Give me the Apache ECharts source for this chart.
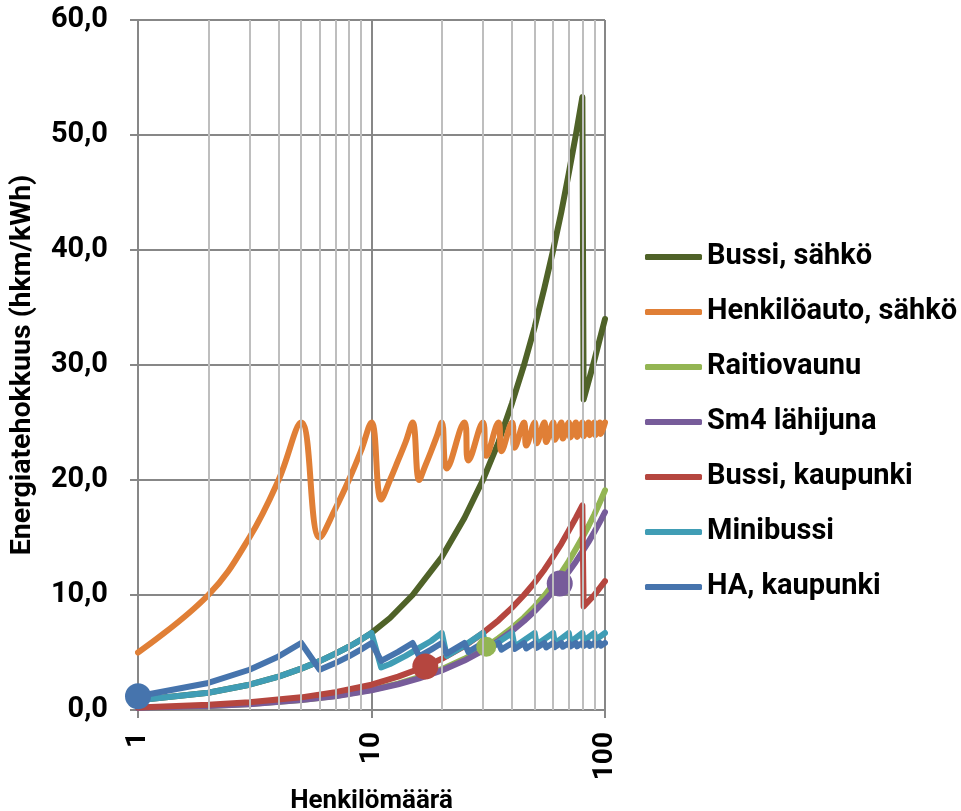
<!DOCTYPE html>
<html>
<head>
<meta charset="utf-8">
<script src="https://cdn.jsdelivr.net/npm/echarts@6/dist/echarts.min.js"></script>
<style>
  html, body { margin: 0; padding: 0; background: #ffffff; }
  #chart { width: 961px; height: 811px; }
</style>
</head>
<body>
<div id="chart"></div>
<script>
// Energy efficiency (passenger-km per kWh) by number of passengers, per vehicle type.
// Each list holds [passengers, hkm/kWh] points.

const bussiSahko = [
  [1, 0.85], [2, 1.5], [3, 2.2], [4, 2.9], [5, 3.6], [6, 4.25], [7, 4.9], [8, 5.5], [9, 6.1], [10, 6.7],
  [12, 8.0], [15, 10.0], [20, 13.3], [25, 16.7], [30, 20.0], [35, 23.3], [40, 26.7], [45, 30.0],
  [50, 33.3], [55, 36.7], [60, 40.0], [65, 43.3], [70, 46.7], [75, 50.0], [80, 53.3],
  [81, 27.0], [90, 30.4], [100, 34.0]
];

const henkiloautoSahko = [
  [1, 5.0], [2, 10.0], [3, 15.0], [4, 20.0], [5, 25.0], [6, 15.0], [7, 17.5], [8, 20.0], [9, 22.5], [10, 25.0],
  [11, 18.3], [12, 20.0], [13, 21.7], [14, 23.3], [15, 25.0], [16, 20.0], [17, 21.25], [18, 22.5], [19, 23.75], [20, 25.0],
  [21, 21.0], [25, 25.0], [26, 21.7], [30, 25.0], [31, 22.1], [35, 25.0], [36, 22.5], [40, 25.0],
  [41, 22.8], [45, 25.0], [46, 23.0], [50, 25.0], [51, 23.2], [55, 25.0], [56, 23.3], [60, 25.0],
  [61, 23.5], [65, 25.0], [66, 23.6], [70, 25.0], [71, 23.7], [75, 25.0], [76, 23.75], [80, 25.0],
  [81, 23.8], [85, 25.0], [86, 23.9], [90, 25.0], [91, 23.9], [95, 25.0], [96, 24.0], [100, 25.0]
];

const raitiovaunu = [
  [1, 0.17], [2, 0.34], [3, 0.52], [5, 0.87], [7, 1.22], [10, 1.75], [13, 2.3], [16, 2.85], [20, 3.55],
  [25, 4.45], [31, 5.5], [35, 6.25], [40, 7.15], [45, 8.05], [50, 9.0], [55, 9.95], [60, 10.95],
  [65, 11.95], [70, 12.95], [75, 14.0], [80, 15.0], [85, 16.0], [90, 17.0], [95, 18.05], [100, 19.1]
];

const sm4Lahijuna = [
  [1, 0.17], [2, 0.34], [3, 0.51], [5, 0.86], [7, 1.2], [10, 1.72], [13, 2.24], [16, 2.75], [20, 3.44],
  [25, 4.3], [30, 5.16], [35, 6.02], [40, 6.88], [45, 7.74], [50, 8.6], [55, 9.46], [60, 10.32],
  [64, 11.0], [70, 12.04], [75, 12.9], [80, 13.76], [85, 14.62], [90, 15.48], [95, 16.34], [100, 17.2]
];

const bussiKaupunki = [
  [1, 0.22], [2, 0.45], [3, 0.67], [5, 1.1], [7, 1.55], [10, 2.2], [13, 2.9], [17, 3.78], [20, 4.45],
  [25, 5.55], [30, 6.7], [35, 7.8], [40, 8.9], [45, 10.0], [50, 11.1], [55, 12.2], [60, 13.35],
  [65, 14.45], [70, 15.6], [75, 16.7], [80, 17.8], [81, 9.0], [90, 10.0], [100, 11.2]
];

const minibussi = [
  [1, 0.85], [2, 1.5], [3, 2.2], [4, 2.9], [5, 3.6], [6, 4.25], [7, 4.9], [8, 5.5], [9, 6.1], [10, 6.7],
  [11, 3.7], [12, 4.0], [14, 4.7], [16, 5.4], [18, 6.0], [20, 6.7], [21, 4.7], [25, 5.6], [30, 6.7],
  [31, 5.2], [40, 6.7], [41, 5.5], [50, 6.7], [51, 5.7], [60, 6.7], [61, 5.8], [70, 6.7], [71, 5.9],
  [80, 6.7], [81, 6.0], [90, 6.7], [91, 6.1], [100, 6.7]
];

const haKaupunki = [
  [1, 1.2], [2, 2.35], [3, 3.5], [4, 4.66], [5, 5.83], [6, 3.5], [7, 4.08], [8, 4.66], [9, 5.25], [10, 5.83],
  [11, 4.27], [13, 5.05], [15, 5.83], [16, 4.66], [18, 5.25], [20, 5.83], [21, 4.9], [25, 5.83],
  [26, 5.05], [30, 5.83], [31, 5.16], [35, 5.83], [36, 5.25], [40, 5.83], [41, 5.31], [45, 5.83],
  [46, 5.36], [50, 5.83], [51, 5.41], [55, 5.83], [56, 5.44], [60, 5.83], [61, 5.47], [65, 5.83],
  [66, 5.5], [70, 5.83], [71, 5.52], [75, 5.83], [76, 5.54], [80, 5.83], [81, 5.56], [85, 5.83],
  [86, 5.57], [90, 5.83], [91, 5.59], [95, 5.83], [96, 5.6], [100, 5.83]
];

// Typical occupancy highlighted with a dot (passengers).
const haMarkerAt = 1;
const bussiKaupunkiMarkerAt = 17;
const raitiovaunuMarkerAt = 31;
const sm4MarkerAt = 64;

// Minor vertical grid lines on the logarithmic passenger axis.
const minorXTicks = [2, 3, 4, 5, 6, 7, 8, 9, 20, 30, 40, 50, 60, 70, 80, 90];

const FONT = "Roboto, 'Liberation Sans', sans-serif";
const GRID_DARK = '#878787';
const GRID_LIGHT = '#BEBEBE';
const LINE_WIDTH = 6;

function lineSeries(name, color, points, markerAt, markerSize, smooth) {
  return {
    name: name,
    type: 'line',
    symbol: 'none',
    smooth: smooth || false,
    clip: false,
    silent: true,
    animation: false,
    emphasis: { disabled: true },
    lineStyle: { color: color, width: LINE_WIDTH, cap: 'round', join: 'round' },
    itemStyle: { color: color },
    data: points.map(function (p) {
      if (markerAt !== null && p[0] === markerAt) {
        return { value: p, symbol: 'circle', symbolSize: markerSize, itemStyle: { color: color, borderWidth: 0 } };
      }
      return p;
    })
  };
}

const chart = echarts.init(document.getElementById('chart'), null, { renderer: 'canvas' });

chart.setOption({
  backgroundColor: '#ffffff',
  animation: false,
  textStyle: { fontFamily: FONT },
  grid: { left: 138, right: 356, top: 20, bottom: 101, containLabel: false, outerBoundsMode: 'none' },
  legend: {
    orient: 'vertical',
    left: 640,
    top: 236,
    icon: 'roundRect',
    itemWidth: 57,
    itemHeight: 6,
    itemGap: 23,
    selectedMode: false,
    data: ['Bussi, sähkö', 'Henkilöauto, sähkö', 'Raitiovaunu', 'Sm4 lähijuna', 'Bussi, kaupunki', 'Minibussi', 'HA, kaupunki'],
    textStyle: { fontFamily: FONT, fontSize: 29, fontWeight: 'bold', color: '#000000', lineHeight: 32 }
  },
  xAxis: {
    type: 'log',
    logBase: 10,
    min: 1,
    max: 100,
    name: 'Henkilömäärä',
    nameLocation: 'middle',
    nameGap: 72,
    nameTextStyle: { fontFamily: FONT, fontSize: 26, fontWeight: 'bold', color: '#000000' },
    axisLine: { show: true, lineStyle: { color: GRID_DARK, width: 2 } },
    axisTick: { show: true, length: 8, lineStyle: { color: GRID_DARK, width: 2 } },
    axisLabel: {
      rotate: 90,
      margin: 22,
      fontFamily: FONT, fontSize: 28, fontWeight: 'bold', color: '#000000'
    },
    splitLine: { show: true, lineStyle: { color: GRID_DARK, width: 2 } },
    minorTick: { show: false },
    minorSplitLine: { show: false }
  },
  yAxis: {
    type: 'value',
    min: 0,
    max: 60,
    interval: 10,
    name: 'Energiatehokkuus (hkm/kWh)',
    nameLocation: 'middle',
    nameRotate: 90,
    nameGap: 101,
    nameTextStyle: { fontFamily: FONT, fontSize: 28.5, fontWeight: 'bold', color: '#000000' },
    axisLine: { show: true, lineStyle: { color: GRID_DARK, width: 2 } },
    axisTick: { show: true, length: 8, lineStyle: { color: GRID_DARK, width: 2 } },
    axisLabel: {
      margin: 30,
      fontFamily: FONT, fontSize: 29, fontWeight: 'bold', color: '#000000',
      formatter: function (v) { return v.toFixed(1).replace('.', ','); }
    },
    splitLine: { show: true, lineStyle: { color: GRID_DARK, width: 2 } }
  },
  series: [
    {
      name: 'minor-grid',
      type: 'line',
      data: [],
      silent: true,
      z: 1,
      animation: false,
      markLine: {
        silent: true,
        animation: false,
        symbol: ['none', 'none'],
        label: { show: false },
        emphasis: { disabled: true },
        lineStyle: { type: 'solid', color: GRID_LIGHT, width: 2 },
        data: minorXTicks.map(function (v) { return { xAxis: v }; })
      }
    },
    lineSeries('Bussi, sähkö', '#4F6228', bussiSahko, null, 0, false),
    lineSeries('Henkilöauto, sähkö', '#E07F36', henkiloautoSahko, null, 0, 0.4),
    lineSeries('Raitiovaunu', '#93B553', raitiovaunu, raitiovaunuMarkerAt, 20, false),
    lineSeries('Sm4 lähijuna', '#775C9A', sm4Lahijuna, sm4MarkerAt, 26, false),
    lineSeries('Bussi, kaupunki', '#B5463F', bussiKaupunki, bussiKaupunkiMarkerAt, 26, false),
    lineSeries('Minibussi', '#409DB5', minibussi, null, 0, false),
    lineSeries('HA, kaupunki', '#4674AD', haKaupunki, haMarkerAt, 26, false)
  ]
});
</script>
</body>
</html>
